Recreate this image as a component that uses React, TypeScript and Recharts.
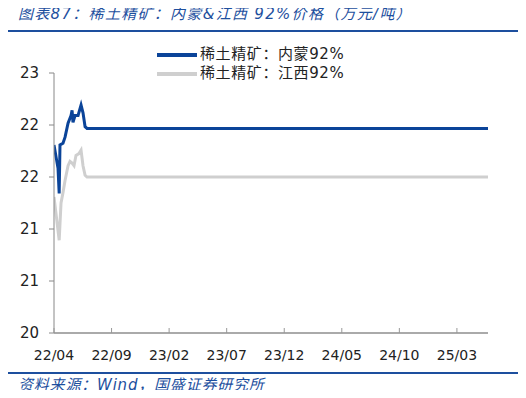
import { LineChart, Line, XAxis, YAxis } from 'recharts';

const tickMonths = [0, 5, 10, 15, 20, 25, 30, 35];
const tickLabels = ['22/04', '22/09', '23/02', '23/07', '23/12', '24/05', '24/10', '25/03'];
const yTicks = [20, 20.6, 21.2, 21.8, 22.4, 23];

// months since 2022/04
const nmT = [0, 0.35, 0.45, 0.52, 0.78, 0.96, 1.22, 1.48, 1.57, 1.65, 1.83, 2.09, 2.35, 2.52, 2.7, 2.87, 37.7];
const nmV = [22.17, 21.9, 21.61, 22.17, 22.19, 22.26, 22.42, 22.51, 22.57, 22.43, 22.51, 22.51, 22.63, 22.54, 22.38, 22.36, 22.36];

const jxT = [0, 0.45, 0.61, 0.78, 0.96, 1.22, 1.39, 1.57, 1.74, 1.91, 2.17, 2.35, 2.52, 2.7, 2.87, 37.7];
const jxV = [21.57, 21.07, 21.5, 21.62, 21.76, 21.93, 21.98, 21.96, 21.93, 22.05, 22.07, 22.11, 21.93, 21.82, 21.8, 21.8];

const nmData = nmT.map((t, i) => ({ t, v: nmV[i] }));
const jxData = jxT.map((t, i) => ({ t, v: jxV[i] }));

const BLUE = '#0b4499';
const GRAY = '#cfcfcf';
const TEXT_BLUE = '#1d4f9e';
const FONT = '"DejaVu Sans", "Noto Sans CJK SC", sans-serif';

const legendItems = [
  { name: '稀土精矿：内蒙92%', color: BLUE },
  { name: '稀土精矿：江西92%', color: GRAY },
];

function XTick(props: any) {
  const { x, y, payload } = props;
  const idx = tickMonths.indexOf(payload.value);
  return (
    <g>
      <line x1={x} y1={y} x2={x} y2={y - 5} stroke="#999" strokeWidth={1} />
      <text x={x} y={y + 27} textAnchor="middle" fontSize={14} fill="#222" fontFamily={FONT}>
        {tickLabels[idx]}
      </text>
    </g>
  );
}

export default function App() {
  return (
    <div style={{ position: 'relative', width: 526, height: 398, margin: -8, background: '#fff', fontFamily: FONT, overflow: 'hidden' }}>
      <div style={{ position: 'absolute', left: 18, top: 5, fontSize: 15, lineHeight: '18px', letterSpacing: 1.3, fontStyle: 'italic', color: TEXT_BLUE, whiteSpace: 'nowrap' }}>
        图表87：稀土精矿：内蒙&amp;江西 92%价格（万元/吨）
      </div>
      <div style={{ position: 'absolute', left: 5, top: 30, width: 513, height: 2, background: TEXT_BLUE }} />
      <LineChart width={526} height={398} margin={{ top: 73, right: 38, left: 0, bottom: 35 }}>
        <XAxis
          type="number"
          dataKey="t"
          domain={[0, 37.7]}
          ticks={tickMonths}
          allowDataOverflow
          axisLine={{ stroke: '#aaa', strokeWidth: 2 }}
          tickLine={false}
          tickSize={0}
          tickMargin={0}
          height={30}
          tick={<XTick />}
        />
        <YAxis
          type="number"
          domain={[20, 23]}
          ticks={yTicks}
          width={54}
          axisLine={{ stroke: '#888' }}
          tickLine={{ stroke: '#888' }}
          tickSize={5}
          tickMargin={10}
          tickFormatter={(v: number) => v.toFixed(0)}
          tick={{ fontSize: 15, fill: '#222', fontFamily: FONT }}
        />
        <Line data={jxData} dataKey="v" type="linear" stroke={GRAY} strokeWidth={3} dot={false} isAnimationActive={false} />
        <Line data={nmData} dataKey="v" type="linear" stroke={BLUE} strokeWidth={3} dot={false} isAnimationActive={false} />
      </LineChart>
      <div style={{ position: 'absolute', left: 157, top: 45, fontSize: 15, color: '#222', letterSpacing: 0.6 }}>
        {legendItems.map((it) => (
          <div key={it.name} style={{ display: 'flex', alignItems: 'center', height: 19, lineHeight: '19px' }}>
            <span style={{ display: 'inline-block', width: 40, height: 4, background: it.color, marginRight: 3 }} />
            <span>{it.name}</span>
          </div>
        ))}
      </div>
      <div style={{ position: 'absolute', left: 5, top: 372, width: 513, height: 2, background: TEXT_BLUE }} />
      <div style={{ position: 'absolute', left: 18, top: 376, fontSize: 15, lineHeight: '18px', letterSpacing: 0.8, fontStyle: 'italic', color: TEXT_BLUE, whiteSpace: 'nowrap' }}>
        资料来源：Wind，国盛证券研究所
      </div>
    </div>
  );
}
